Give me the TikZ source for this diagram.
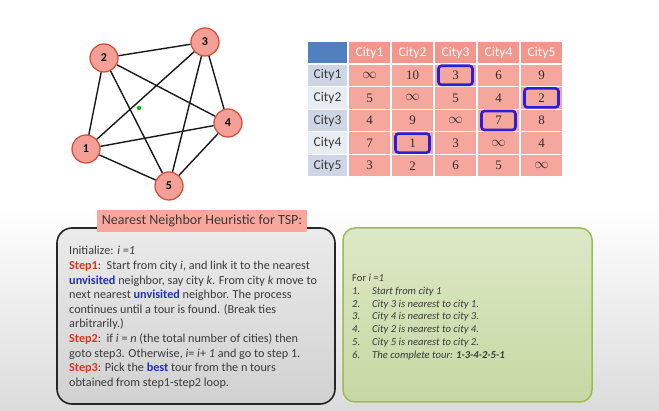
\documentclass[tikz,border=0pt]{standalone}
\usepackage{fontspec}
\setmainfont{Carlito}
\newfontfamily\valfont{Liberation Serif}
\definecolor{nodefill}{HTML}{F4A096}
\definecolor{nodeborder}{HTML}{D9503E}
\definecolor{hdrblue}{HTML}{5180C0}
\definecolor{hdrsalmon}{HTML}{F2958A}
\definecolor{datasalmon}{HTML}{F5A79E}
\definecolor{rowdark}{HTML}{CED6E6}
\definecolor{rowlight}{HTML}{E8ECF3}
\definecolor{hlblue}{HTML}{2A1FD6}
\definecolor{titlefill}{HTML}{F8A79D}
\definecolor{stepred}{HTML}{E0301E}
\definecolor{wordblue}{HTML}{2232B4}
\definecolor{txtgray}{HTML}{3A3A3A}
\definecolor{greenborder}{HTML}{9BBB59}
\definecolor{greentop}{HTML}{DDE8C6}
\definecolor{greenbot}{HTML}{C6D8A2}
\tikzset{
  city/.style={circle, draw=nodeborder, fill=nodefill, line width=1.3pt, minimum size=28pt, inner sep=0pt, font=\fontsize{12}{12}\selectfont\bfseries},
  edge/.style={line width=1.4pt, black!90},
  cell/.style={draw=white, line width=1.2pt, inner sep=0pt, outer sep=0pt, minimum height=22.6pt},
  hdr/.style={cell, fill=hdrsalmon, text=white, minimum width=43pt, font=\fontsize{13.5}{13.5}\selectfont},
  rowlab/.style={cell, minimum width=41pt, text=txtgray, font=\fontsize{13.5}{13.5}\selectfont},
  val/.style={cell, fill=datasalmon, minimum width=43pt, text=txtgray!80!black, font=\fontsize{13}{13}\valfont},
  hl/.style={draw=hlblue, line width=2.6pt, rounded corners=3pt, minimum width=34pt, minimum height=19pt, inner sep=0pt},
  ltxt/.style={anchor=base west, inner sep=0pt, text=txtgray, font=\fontsize{12.2}{13}\selectfont},
  gtxt/.style={anchor=base west, inner sep=0pt, text=txtgray, font=\fontsize{10.6}{11}\selectfont\itshape},
}
\newcommand{\stp}[1]{\textcolor{stepred}{\textbf{#1}}}
\newcommand{\bw}[1]{\textcolor{wordblue}{\textbf{#1}}}
\newcommand{\inff}{{\fontsize{14.5}{14.5}\selectfont$\infty$}}
\begin{document}
\begin{tikzpicture}[x=1pt,y=-1pt]
\useasboundingbox (0,0) rectangle (659,411);
\shade[top color=white, bottom color=gray!28, middle color=white] (0,0) rectangle (659,411);

% graph
\foreach \n/\x/\y in {1/86/149,2/104/58,3/205/42,4/228/123,5/169/186}
  \node[city] (n\n) at (\x,\y) {\n};
\foreach \a/\b in {2/3,2/1,2/5,2/4,3/1,3/5,3/4,4/1,4/5,1/5}
  \draw[edge] (n\a) -- (n\b);
\fill[green!75!black] (139,108) circle (2.2);

% table
\node[cell, fill=hdrblue, minimum width=41pt] (c00) at (327.5,53) {};
\foreach \c/\x in {1/369.5,2/412.5,3/455.5,4/498.5,5/541.5}
  \node[hdr] (c0\c) at (\x,53) {City\c};
\foreach \r/\y/\col in {1/75.3/rowdark,2/97.9/rowlight,3/120.5/rowdark,4/143.1/rowlight,5/165.7/rowdark}
  \node[rowlab, fill=\col] (c\r0) at (327.5,\y) {City\r};
\foreach \r/\y/\vals in {1/75.3/{\inff,10,3,6,9},2/97.9/{5,\inff,5,4,2},3/120.5/{4,9,\inff,7,8},4/143.1/{7,1,3,\inff,4},5/165.7/{3,2,6,5,\inff}}{
  \foreach \v [count=\c] in \vals {
    \pgfmathsetmacro{\xx}{326.5+43*\c}
    \node[val] (c\r\c) at (\xx,\y) {\v};
  }
}
\foreach \r/\c in {1/3,2/5,3/4,4/2}
  \node[hl] (h\r\c) at (c\r\c.center) {};

% left box
\draw[line width=1.6pt, draw=black!85, rounded corners=15pt, top color=gray!16, bottom color=gray!36] (57,228) rectangle (335,404);
\node[fill=titlefill, minimum width=210pt, minimum height=22pt, inner sep=0pt, text=txtgray, font=\fontsize{14}{14}\selectfont] (title) at (202,221) {Nearest Neighbor Heuristic for TSP:};

\node[ltxt] (l1) at (69,255) {Initialize: \textit{i =1}};
\node[ltxt] (l2) at (69,270) {\stp{Step1}:\ \ Start from city \textit{i}, and link it to the nearest};
\node[ltxt] (l3) at (69,284.5) {\bw{unvisited} neighbor, say city \textit{k}. From city \textit{k} move to};
\node[ltxt] (l4) at (69,299) {next nearest \bw{unvisited} neighbor. The process};
\node[ltxt] (l5) at (69,313.5) {continues until a tour is found. (Break ties};
\node[ltxt] (l6) at (69,328) {arbitrarily.)};
\node[ltxt] (l7) at (69,343) {\stp{Step2}:\ \ if \textit{i} = \textit{n} (the total number of cities) then};
\node[ltxt] (l8) at (69,357.5) {goto step3. Otherwise, \textit{i}= \textit{i}+ \textit{1} and go to step 1.};
\node[ltxt] (l9) at (69,372) {\stp{Step3}: Pick the \bw{best} tour from the n tours};
\node[ltxt] (l10) at (69,386.5) {obtained from step1-step2 loop.};

% right box
\draw[line width=1.5pt, draw=greenborder, rounded corners=12pt, top color=greentop, bottom color=greenbot] (343,228) rectangle (592,402);
\node[gtxt, font=\fontsize{10.6}{11}\selectfont] (g0) at (352,281.5) {For \textit{i =1}};
\foreach \k/\y/\t in {1/294.5/Start from city 1,2/307.5/City 3 is nearest to city 1.,3/320/City 4 is nearest to city 3.,4/333/City 2 is nearest to city 4.,5/345.5/City 5 is nearest to city 2.,6/358.5/{The complete tour: \textbf{1-3-4-2-5-1}}}{
  \node[gtxt] (gn\k) at (352,\y) {\k.};
  \node[gtxt] (gt\k) at (372,\y) {\t};
}
\end{tikzpicture}
\end{document}
